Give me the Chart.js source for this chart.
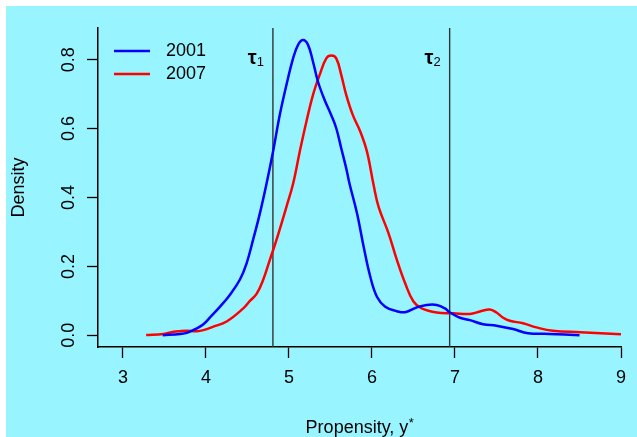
<!DOCTYPE html>
<html>
<head>
<meta charset="utf-8">
<title>Density of propensity</title>
<script src="https://cdn.jsdelivr.net/npm/chart.js@4.4.1/dist/chart.umd.min.js"></script>
<style>
  html, body { margin: 0; padding: 0; background: #fff; }
  #wrap { position: absolute; left: 6px; top: 6px; width: 631px; height: 431px; background: #98F5FF; }
  canvas { display: block; }
</style>
</head>
<body>
<div id="wrap"><canvas id="density" width="631" height="431"></canvas></div>
<script>
// kernel density estimates of the propensity, two survey years
const years = ['2001', '2007'];

const x2001 = [3.48, 3.69, 3.77, 3.89, 3.97, 4.05, 4.17, 4.29, 4.41, 4.49, 4.57, 4.65, 4.73, 4.81,
  4.89, 4.97, 5.05, 5.11, 5.17, 5.23, 5.29, 5.35, 5.43, 5.51, 5.57, 5.63, 5.69, 5.73, 5.82, 5.90,
  5.98, 6.06, 6.16, 6.30, 6.40, 6.54, 6.66, 6.78, 6.88, 6.94, 7.06, 7.18, 7.34, 7.50, 7.70, 7.88,
  8.14, 8.50];
const y2001 = [0.000, 0.004, 0.007, 0.020, 0.032, 0.052, 0.083, 0.118, 0.162, 0.209, 0.279, 0.354,
  0.440, 0.535, 0.640, 0.727, 0.804, 0.843, 0.857, 0.843, 0.794, 0.736, 0.683, 0.639, 0.601, 0.543,
  0.485, 0.440, 0.354, 0.257, 0.170, 0.112, 0.083, 0.070, 0.067, 0.081, 0.088, 0.088, 0.078, 0.066,
  0.051, 0.044, 0.032, 0.028, 0.018, 0.006, 0.004, 0.000];

const x2007 = [3.28, 3.49, 3.61, 3.69, 3.77, 3.89, 3.97, 4.09, 4.25, 4.45, 4.53, 4.61, 4.69, 4.77,
  4.85, 4.97, 5.05, 5.13, 5.21, 5.29, 5.37, 5.45, 5.51, 5.57, 5.63, 5.69, 5.77, 5.86, 5.94, 6.02,
  6.08, 6.20, 6.30, 6.40, 6.50, 6.60, 6.78, 6.98, 7.18, 7.30, 7.42, 7.50, 7.58, 7.66, 7.82, 7.98,
  8.18, 8.51, 9.00];
const y2007 = [0.001, 0.004, 0.010, 0.012, 0.013, 0.012, 0.015, 0.025, 0.040, 0.078, 0.100, 0.120,
  0.161, 0.219, 0.277, 0.373, 0.440, 0.533, 0.620, 0.698, 0.756, 0.804, 0.812, 0.804, 0.756, 0.698,
  0.639, 0.591, 0.533, 0.436, 0.373, 0.296, 0.219, 0.151, 0.098, 0.078, 0.066, 0.064, 0.062, 0.069,
  0.075, 0.066, 0.051, 0.042, 0.035, 0.023, 0.013, 0.009, 0.003];

// cut points between the categories
const tauValues = [4.807, 6.936];
const tauNames = ['\u03C4', '\u03C4'];
const tauSubs = ['1', '2'];

const xTicks = [3, 4, 5, 6, 7, 8, 9];
const yTicks = [0, 0.2, 0.4, 0.6, 0.8];
const xRange = [2.7, 9];
const yRange = [-0.034, 0.892];

const FONT = '"Liberation Sans", Arial, sans-serif';
Chart.defaults.font.family = FONT;
Chart.defaults.font.size = 18;
Chart.defaults.color = '#000';

const pts = (xs, ys) => xs.map((x, i) => ({ x: x, y: ys[i] }));

const curveStyle = {
    pointRadius: 0,
    borderWidth: 2.5,
    fill: false,
    tension: 0.4,
};

const datasets = [
    { label: years[0], data: pts(x2001, y2001), borderColor: '#0000FF', ...curveStyle },
    { label: years[1], data: pts(x2007, y2007), borderColor: '#FF0000', ...curveStyle },
];
tauValues.forEach((t, i) => {
    datasets.push({
        label: 'tau' + (i + 1),
        data: [{ x: t, y: yRange[0] }, { x: t, y: yRange[1] }],
        borderColor: '#333',
        borderWidth: 1.4,
        pointRadius: 0,
        fill: false,
        isCut: true,
    });
});

// legend in the upper left corner of the plot
const cornerLegend = {
    id: 'cornerLegend',
    afterDatasetsDraw(chart) {
        const { ctx, chartArea } = chart;
        ctx.save();
        ctx.font = '18px ' + FONT;
        ctx.textBaseline = 'middle';
        ctx.fillStyle = '#000';
        chart.data.datasets.filter(d => !d.isCut).forEach((d, i) => {
            const y = chartArea.top + 23 + i * 23;
            ctx.beginPath();
            ctx.strokeStyle = d.borderColor;
            ctx.lineWidth = d.borderWidth;
            ctx.moveTo(chartArea.left + 16, y);
            ctx.lineTo(chartArea.left + 52, y);
            ctx.stroke();
            ctx.fillText(d.label, chartArea.left + 68, y);
        });
        ctx.restore();
    }
};

// tau labels just left of each cut line
const tauLabels = {
    id: 'tauLabels',
    afterDatasetsDraw(chart) {
        const { ctx } = chart;
        const xs = chart.scales.x, ys = chart.scales.y;
        ctx.save();
        ctx.fillStyle = '#000';
        ctx.textBaseline = 'alphabetic';
        tauValues.forEach((t, i) => {
            const right = xs.getPixelForValue(t) - 9;
            const yp = ys.getPixelForValue(0.8);
            ctx.font = '13px ' + FONT;
            const subW = ctx.measureText(tauSubs[i]).width;
            ctx.fillText(tauSubs[i], right - subW, yp + 6.5);
            ctx.font = 'bold 20px ' + FONT;
            const tw = ctx.measureText(tauNames[i]).width;
            ctx.fillText(tauNames[i], right - subW - tw, yp + 4);
        });
        ctx.restore();
    }
};

// x-axis title with a raised asterisk after the y
const xTitle = {
    id: 'xTitle',
    afterDraw(chart) {
        const { ctx, chartArea } = chart;
        const base = chart.height - 4;
        const cx = (chartArea.left + chartArea.right) / 2;
        const main = 'Propensity, y';
        ctx.save();
        ctx.fillStyle = '#000';
        ctx.textBaseline = 'alphabetic';
        ctx.font = '18px ' + FONT;
        const w = ctx.measureText(main).width;
        ctx.font = '13px ' + FONT;
        const sw = ctx.measureText('*').width;
        const x0 = cx - (w + sw) / 2;
        ctx.font = '18px ' + FONT;
        ctx.fillText(main, x0, base);
        ctx.font = '13px ' + FONT;
        ctx.fillText('*', x0 + w + 0.5, base - 6);
        ctx.restore();
    }
};

const tickGrid = {
    display: true,
    drawOnChartArea: false,
    drawTicks: true,
    tickLength: 11,
    tickColor: '#000',
    tickWidth: 1.3,
};

new Chart(document.getElementById('density'), {
    type: 'line',
    data: { datasets: datasets },
    plugins: [cornerLegend, tauLabels, xTitle],
    options: {
        responsive: false,
        animation: false,
        devicePixelRatio: 1,
        layout: { padding: { top: 22, right: 16, left: 0, bottom: 0 } },
        plugins: {
            legend: { display: false },
            tooltip: { enabled: false },
        },
        scales: {
            x: {
                type: 'linear',
                min: xRange[0],
                max: xRange[1],
                afterBuildTicks: s => { s.ticks = xTicks.map(v => ({ value: v })); },
                afterFit: s => { s.height = 90; },
                ticks: { padding: 9, maxRotation: 0, callback: v => String(v) },
                grid: tickGrid,
                border: { display: true, color: '#000', width: 1.5 },
            },
            y: {
                type: 'linear',
                min: yRange[0],
                max: yRange[1],
                afterBuildTicks: s => { s.ticks = yTicks.map(v => ({ value: v })); },
                afterFit: s => { s.width = 92; },
                ticks: { minRotation: 90, maxRotation: 90, crossAlign: 'center', padding: 5,
                         callback: v => v.toFixed(1) },
                grid: tickGrid,
                border: { display: true, color: '#000', width: 1.5 },
                title: { display: true, text: 'Density', padding: { top: 2, bottom: 0 } },
            },
        },
    },
});
</script>
</body>
</html>
